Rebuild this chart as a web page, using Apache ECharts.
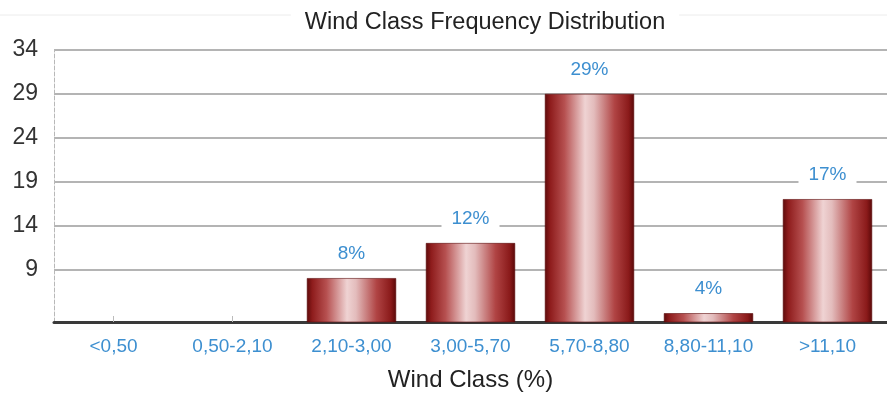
<!DOCTYPE html>
<html>
<head>
<meta charset="utf-8">
<style>
  html, body { margin: 0; padding: 0; background: #ffffff; }
  #chart { width: 887px; height: 397px; }
</style>
<script src="https://cdn.jsdelivr.net/npm/echarts@6/dist/echarts.min.js"></script>
</head>
<body>
<div id="chart"></div>
<script>
// Wind speed classes and their share of observations (%)
const windClasses = ['<0,50', '0,50-2,10', '2,10-3,00', '3,00-5,70', '5,70-8,80', '8,80-11,10', '>11,10'];
const frequencyPct = [0, 0, 8, 12, 29, 4, 17];
const yTickValues = [9, 14, 19, 24, 29, 34];

const chart = echarts.init(document.getElementById('chart'), null, { renderer: 'canvas' });

const FONT = 'Liberation Sans, Arial, sans-serif';

// cylinder-like shading across each bar
const barFill = new echarts.graphic.LinearGradient(0, 0, 1, 0, [
  { offset: 0.00, color: '#5e0a0a' },
  { offset: 0.06, color: '#8e1c1c' },
  { offset: 0.22, color: '#b65050' },
  { offset: 0.45, color: '#efd3d3' },
  { offset: 0.55, color: '#e3bcbc' },
  { offset: 0.78, color: '#b04444' },
  { offset: 0.94, color: '#8a1a1a' },
  { offset: 1.00, color: '#5a0808' }
]);

const option = {
  backgroundColor: '#ffffff',
  animation: false,
  graphic: [{
    type: 'line',
    z: 0,
    shape: { x1: 0, y1: 15, x2: 887, y2: 15 },
    style: { stroke: '#ececec', lineWidth: 1 }
  }],
  title: {
    text: 'Wind Class Frequency Distribution',
    left: 471,
    textAlign: 'center',
    top: 9,
    padding: [2, 14],
    backgroundColor: '#ffffff',
    textStyle: { fontFamily: FONT, fontSize: 23.5, fontWeight: 'normal', color: '#222222' }
  },
  grid: { left: 54, right: 0, top: 50, bottom: 74, containLabel: false },
  xAxis: {
    type: 'category',
    data: windClasses,
    name: 'Wind Class (%)',
    nameLocation: 'middle',
    nameGap: 46,
    nameTextStyle: { fontFamily: FONT, fontSize: 24, color: '#222222' },
    axisLine: { lineStyle: { color: '#3a3a3a', width: 3 } },
    axisTick: { show: true, alignWithLabel: true, inside: true, length: 6, lineStyle: { color: '#bbbbbb' } },
    axisLabel: { margin: 15, fontFamily: FONT, fontSize: 19, color: '#3d8fd0' },
    splitLine: { show: false }
  },
  yAxis: {
    type: 'value',
    min: 3,
    max: 34,
    axisLine: { show: true, lineStyle: { color: '#b8b8b8', width: 1, type: 'dashed' } },
    axisTick: { show: false, customValues: yTickValues },
    axisLabel: { customValues: yTickValues, margin: 16, fontFamily: FONT, fontSize: 23, color: '#333333' },
    splitLine: { show: true, lineStyle: { color: '#b4b4b4', width: 2 } }
  },
  series: [{
    type: 'bar',
    data: frequencyPct,
    barWidth: '75%',
    clip: true,
    itemStyle: { color: barFill, borderColor: '#5a0a0a', borderWidth: 0.6 },
    label: {
      show: true,
      position: 'top',
      distance: 13,
      formatter: p => (p.value > 0 ? p.value + '%' : ''),
      fontFamily: FONT,
      fontSize: 19,
      color: '#3d8fd0',
      backgroundColor: '#ffffff',
      padding: [2, 10]
    }
  }]
};

chart.setOption(option);
</script>
</body>
</html>
